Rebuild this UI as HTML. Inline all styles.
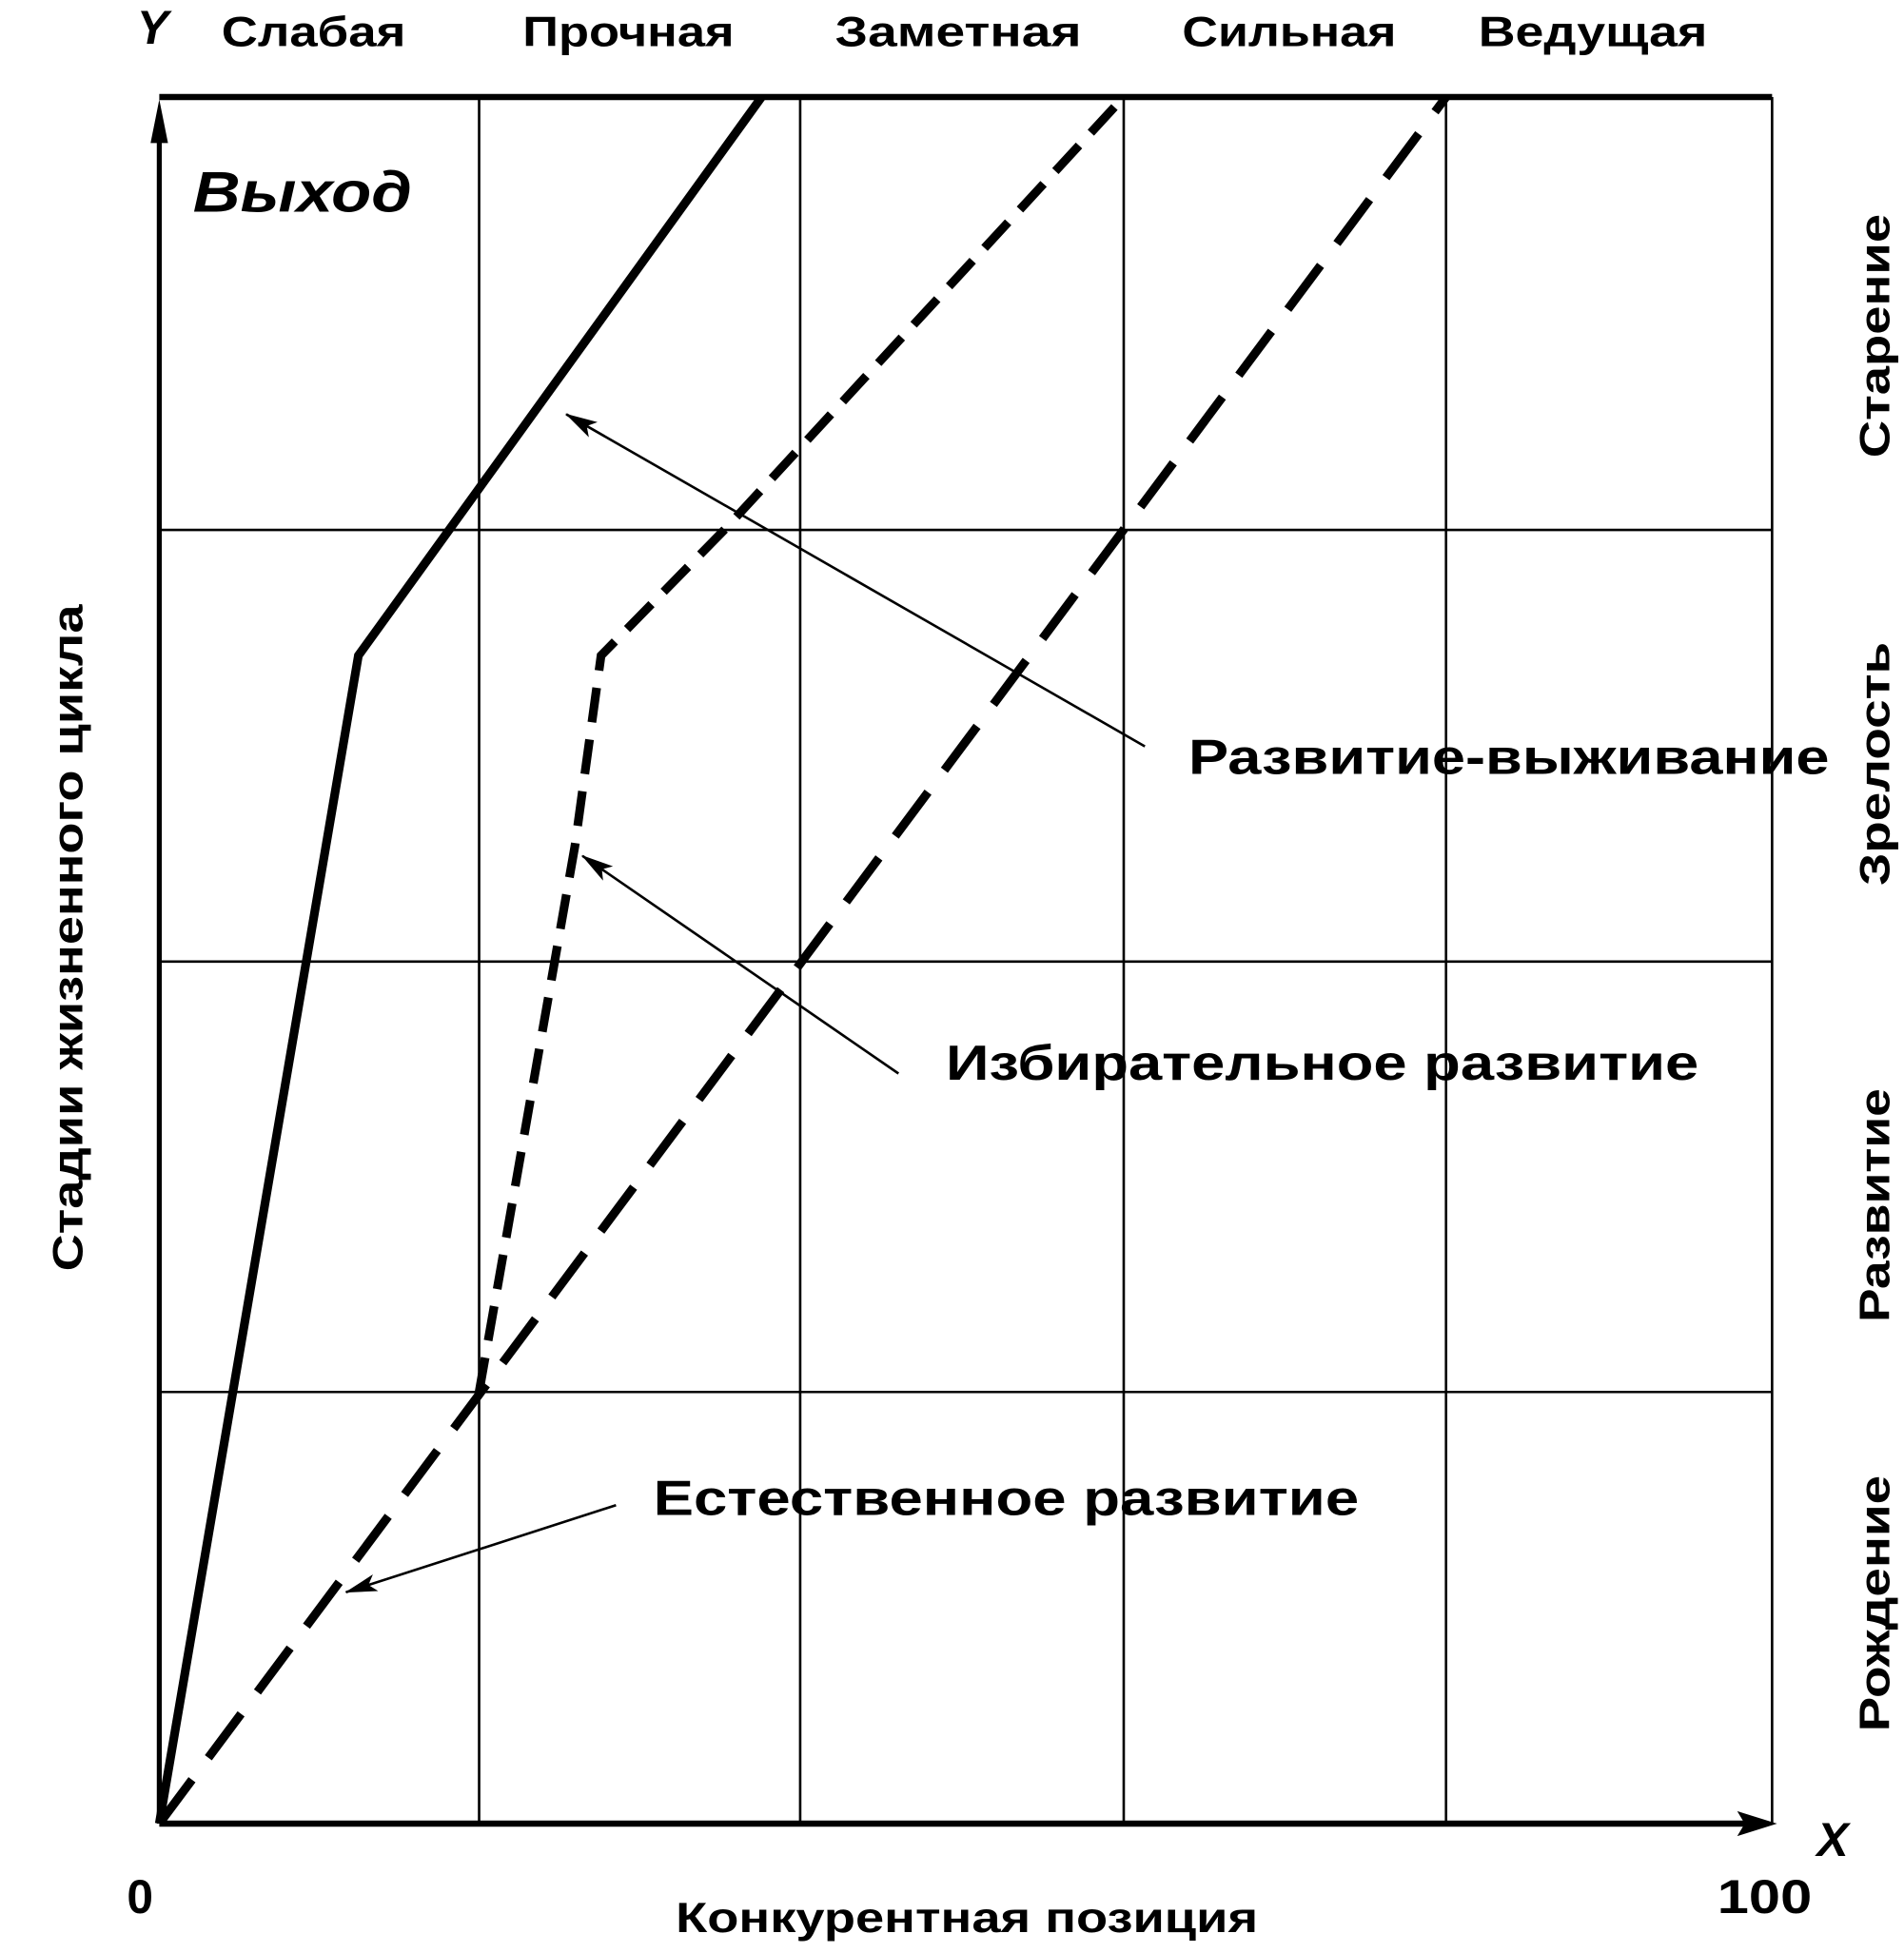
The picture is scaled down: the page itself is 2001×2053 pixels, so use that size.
<!DOCTYPE html>
<html><head><meta charset="utf-8"><style>html,body{margin:0;padding:0;background:#fff}svg{display:block}</style></head>
<body>
<svg width="2001" height="2053" viewBox="0 0 1530 1570" preserveAspectRatio="none" xmlns="http://www.w3.org/2000/svg" font-family="Liberation Sans, sans-serif" font-weight="bold">
<defs>
<marker id="ah" markerWidth="26" markerHeight="14" refX="25" refY="7" orient="auto" markerUnits="userSpaceOnUse" viewBox="0 0 26 14"><path d="M0,0 L26,7 L0,14 L6,7 z" fill="#000"/></marker>
</defs>
<g stroke="#000" stroke-width="2" fill="none">
<line x1="385" y1="78" x2="385" y2="1466"/>
<line x1="643" y1="78" x2="643" y2="1466"/>
<line x1="903" y1="78" x2="903" y2="1466"/>
<line x1="1162" y1="78" x2="1162" y2="1466"/>
<line x1="1424" y1="78" x2="1424" y2="1466"/>
<line x1="128" y1="426" x2="1424" y2="426"/>
<line x1="128" y1="773" x2="1424" y2="773"/>
<line x1="128" y1="1119" x2="1424" y2="1119"/>
<line x1="128" y1="78" x2="1424" y2="78" stroke-width="5"/>
<line x1="128" y1="1466" x2="1410" y2="1466" stroke-width="5"/>
<line x1="128" y1="1466" x2="128" y2="95" stroke-width="4"/>
</g>
<path d="M128,80 L121,115 L135,115 z"/>
<path d="M1428,1466 L1396,1456 L1402,1466 L1396,1476 z"/>
<g stroke="#000" stroke-width="7" fill="none" stroke-linejoin="miter">
<polyline points="128,1466 288,527 612,78"/>
<polyline points="385,1119 462,680 483,527 582,426 903,78" stroke-dasharray="28,14"/>
<polyline points="128,1466 1162,78" stroke-dasharray="44,22"/>
</g>
<g stroke="#000" stroke-width="2" fill="none">
<line x1="920" y1="600" x2="455" y2="333" marker-end="url(#ah)"/>
<line x1="722" y1="863" x2="468" y2="688" marker-end="url(#ah)"/>
<line x1="495" y1="1210" x2="278" y2="1280" marker-end="url(#ah)"/>
</g>
<g font-size="34" fill="#000">
<text x="110" y="35" font-size="38" font-style="italic">Y</text>
<text x="178" y="37" textLength="148" lengthAdjust="spacingAndGlyphs">Слабая</text>
<text x="420" y="37" textLength="170" lengthAdjust="spacingAndGlyphs">Прочная</text>
<text x="671" y="37" textLength="198" lengthAdjust="spacingAndGlyphs">Заметная</text>
<text x="950" y="37" textLength="172" lengthAdjust="spacingAndGlyphs">Сильная</text>
<text x="1188" y="37" textLength="184" lengthAdjust="spacingAndGlyphs">Ведущая</text>
<text x="155" y="170" font-size="46" font-style="italic" textLength="176" lengthAdjust="spacingAndGlyphs">Выход</text>
<text x="955" y="622" font-size="40" textLength="515" lengthAdjust="spacingAndGlyphs">Развитие-выживание</text>
<text x="760" y="868" font-size="40" textLength="605" lengthAdjust="spacingAndGlyphs">Избирательное развитие</text>
<text x="525" y="1218" font-size="40" textLength="567" lengthAdjust="spacingAndGlyphs">Естественное развитие</text>
<text x="1460" y="1492" font-size="38" font-style="italic">X</text>
<text x="102" y="1538" font-size="38">0</text>
<text x="1380" y="1538" font-size="38" textLength="76" lengthAdjust="spacingAndGlyphs">100</text>
<text x="543" y="1553" textLength="468" lengthAdjust="spacingAndGlyphs">Конкурентная позиция</text>
<text transform="translate(66,1022) rotate(-90)" textLength="536" lengthAdjust="spacingAndGlyphs">Стадии жизненного цикла</text>
<text transform="translate(1518,368) rotate(-90)" textLength="196" lengthAdjust="spacingAndGlyphs">Старение</text>
<text transform="translate(1518,712) rotate(-90)" textLength="196" lengthAdjust="spacingAndGlyphs">Зрелость</text>
<text transform="translate(1518,1063) rotate(-90)" textLength="188" lengthAdjust="spacingAndGlyphs">Развитие</text>
<text transform="translate(1518,1392) rotate(-90)" textLength="206" lengthAdjust="spacingAndGlyphs">Рождение</text>
</g>
</svg>
</body></html>
